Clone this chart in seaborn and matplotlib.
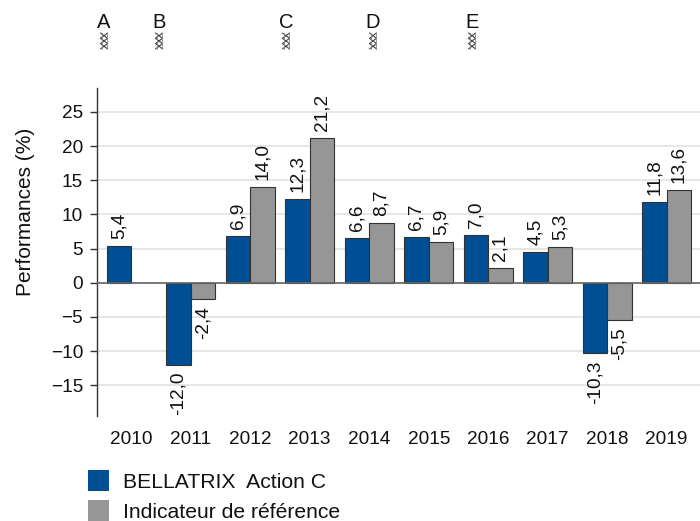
import matplotlib
matplotlib.use('Agg')
import matplotlib.pyplot as plt
import pandas as pd
import seaborn as sns
from matplotlib.lines import Line2D
from matplotlib.patches import Rectangle

# valeurs
annees = ['2010', '2011', '2012', '2013', '2014', '2015', '2016', '2017', '2018', '2019']
fonds = [5.4, -12.0, 6.9, 12.3, 6.6, 6.7, 7.0, 4.5, -10.3, 11.8]
indice = [None, -2.4, 14.0, 21.2, 8.7, 5.9, 2.1, 5.3, -5.5, 13.6]
noms = ['BELLATRIX  Action C', 'Indicateur de référence']
couleurs = ['#004f94', '#969696']
periodes = ['A', 'B', 'C', 'D', 'E']
periodes_x = [104, 159, 286, 373, 472]

sns.set_theme(style='white')
plt.rcParams['font.family'] = ['Liberation Sans', 'DejaVu Sans']

df = pd.DataFrame({'annee': annees * 2,
                   'serie': [noms[0]] * 10 + [noms[1]] * 10,
                   'perf': pd.to_numeric(pd.Series(fonds + indice))})

W, H = 700, 521
fig = plt.figure(figsize=(7, 5.21), dpi=100)
ax = fig.add_axes([97 / W, 1 - 416 / H, (700 - 97) / W, (416 - 88) / H])

sns.barplot(data=df, x='annee', y='perf', hue='serie', palette=couleurs, saturation=1,
            width=0.82, gap=0, edgecolor='#333333', linewidth=0.8, errorbar=None,
            legend=False, ax=ax, zorder=3)

ax.set_xlim(-0.575, 9.56)
ax.set_ylim(-19.5, 28.5)
ax.set_yticks(range(-15, 30, 5))
ax.set_yticklabels([str(v).replace('-', '\u2212') for v in range(-15, 30, 5)], fontsize=13.7, color='#111111')
ax.yaxis.grid(True, color='#e2e2e2', linewidth=1.2, zorder=0)
ax.set_axisbelow(True)
ax.axhline(0, color='#666666', linewidth=1.2, zorder=4)
ax.set_xlabel('')
ax.set_ylabel('Performances (%)', fontsize=15, color='#111111')
ax.yaxis.set_label_coords(-0.102, 0.622)

# annees sous le graphique
ax.tick_params(axis='x', length=0, labelsize=13.7, pad=11, labelcolor='#111111')
ax.tick_params(axis='y', left=True, length=5, width=1, color='#333333', pad=5)
ax.xaxis.set_ticks_position('none')

sns.despine(ax=ax, top=True, right=True, bottom=True)
ax.spines['left'].set_color('#333333')
ax.spines['left'].set_linewidth(1)

# etiquettes de valeurs (la barre manquante n'est pas dans le container)
for cont, vals in zip(ax.containers, [fonds, indice]):
    vals = [v for v in vals if v is not None]
    for bar, v in zip(cont, vals):
        ax.annotate(f'{v:.1f}'.replace('.', ','), (bar.get_x() + bar.get_width() / 2, v),
                    xytext=(0, 5 if v > 0 else -5), textcoords='offset points', rotation=90,
                    ha='center', va='bottom' if v > 0 else 'top', fontsize=13.7, color='#111111')

# reperes A-E en haut : trois croix empilees entre deux traits
for nom, px in zip(periodes, periodes_x):
    fig.text(px / W, 1 - 22 / H, nom, fontsize=14.5, ha='center', va='center', color='#111111')
    for k in range(3):
        y0, y1 = 33 + k * 5.3, 33 + (k + 1) * 5.3
        for xa, xb in [(px - 3.5, px + 3.5), (px + 3.5, px - 3.5)]:
            fig.add_artist(Line2D([xa / W, xb / W], [1 - y0 / H, 1 - y1 / H], transform=fig.transFigure,
                                  color='#444444', linewidth=0.8))
    for xa in [px - 2.5, px + 2.5]:
        fig.add_artist(Line2D([xa / W, xa / W], [1 - 33 / H, 1 - 49 / H], transform=fig.transFigure,
                              color='#888888', linewidth=0.6))

# legende
poignees = [Rectangle((0, 0), 1, 1, facecolor=c, edgecolor='none') for c in couleurs]
fig.legend(poignees, noms, loc='lower left', bbox_to_anchor=(88 / W, -1 / H), frameon=False, fontsize=15.2,
           borderpad=0, borderaxespad=0, handlelength=1.0, handleheight=1.14, handletextpad=0.66,
           labelspacing=0.42, labelcolor='#111111')

fig.savefig('out.png', dpi=100)
